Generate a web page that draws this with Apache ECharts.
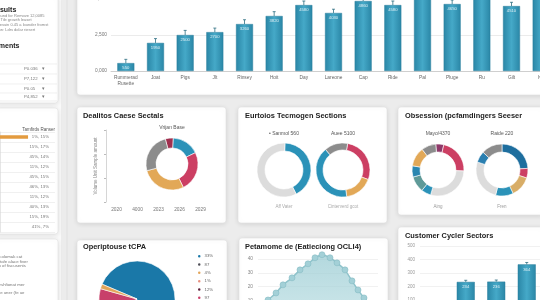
<!DOCTYPE html>
<html><head><meta charset="utf-8">
<script src="https://cdn.jsdelivr.net/npm/echarts@6/dist/echarts.min.js"></script>
<style>html,body{margin:0;padding:0;background:#ececec;}#c{width:540px;height:300px;}</style>
</head><body><div id="c"></div><script>
// ---------- data ----------
const topCats = ['Rummerad\nRusette','Joat','Pigs','Jlt','Rinsey','Hoit','Day','Lareone','Cap','Ride','Pal','Pluge','Ru','Gilt','Ivo'];
const topVals = [550,1950,2500,2700,3260,3820,4580,4030,4860,4580,5600,4650,5800,4510,5900];
const topErr  = [260,300,320,280,300,300,280,260,300,280,300,280,300,260,300];
const topTicks = ['0,000','2,500','5,000','7,500'];

const aYears = ['2020','4000','2023','2026','2029'];
const donutAVals = [5,17,25,28,25];
const donutB1Vals = [42,58];
const donutB2Vals = [28,17,41,14];
const donutC1Vals = [5,22,29,6,10,7,12,9];
const donutC2Vals = [24,6,13,11,26,7,13];

const pieNames = ['33%','87','4%','1%','12%','97','6%'];
const pieVals  = [78,2,2,1.5,2,12,2.5];

const blobX = [0,4,10,18,25,34,42,50,57,64,72,79,87,94,100,106,112,118];
const blobY = [0,6.6,10.2,15.3,21.2,26.3,32.1,36.5,40.9,43.1,40.9,37.2,32.1,24.1,17.5,11.7,6.6,0];

const cycCats = ['Q1','Q2','Q3','Q4'];
const cycVals = [60,234,236,364];
const cycErr  = [10,12,12,14];

const sideRows = ['1%, 15%','15%, 17%','45%, 14%','11%, 12%','45%, 15%','46%, 13%','11%, 12%','40%, 13%','15%, 19%','41%, 7%'];
const sideVals = [51,0,0,0,0,0,0,0,0,0];
const tableVals = ['P0.036','P7,122','P0.05','P4,852'];

// ---------- styles ----------
const TEAL='#2b92b8', CRIM='#cc3f63', ORNG='#e2a857', GRAY='#8c8c8c', LGRAY='#dcdcdc';
const barGrad = new echarts.graphic.LinearGradient(0,0,1,0,[
  {offset:0,color:'#2a86a6'},{offset:0.5,color:'#45a9c8'},{offset:1,color:'#2a86a6'}]);
const TF = 'Liberation Sans, Arial, sans-serif';

function card(x,y,w,h){
  return {type:'rect',z:-10,shape:{x:x,y:y,width:w,height:h,r:3},
    style:{fill:'#fff',stroke:'#e0e0e0',lineWidth:0.6,shadowBlur:5,shadowColor:'rgba(0,0,0,0.10)',shadowOffsetY:1}};
}
function txt(x,y,t,fs,col,opt){
  return Object.assign({type:'text',z:5,x:x,y:y,style:Object.assign({text:t,fontSize:fs,fill:col,fontFamily:TF,textVerticalAlign:'middle'},opt||{})});
}
function title(x,y,t){ return txt(x,y,t,7.4,'#222',{fontWeight:'bold'}); }
function hline(x1,x2,y,col){ return {type:'line',z:-5,shape:{x1:x1,y1:y,x2:x2,y2:y},style:{stroke:col||'#e6e6e6',lineWidth:0.6}}; }

function donut(cx,cy,r,vals,colors,start){
  return {type:'pie',center:[cx,cy],radius:r,startAngle:start,clockwise:true,silent:true,
    label:{show:false},labelLine:{show:false},
    itemStyle:{borderColor:'#fff',borderWidth:0.6},
    data:vals.map((v,i)=>({value:v,name:'d'+start+'_'+i,itemStyle:{color:colors[i]}}))};
}
function errRender(color){
  return function(params, api){
    const i = api.value(0), v = api.value(1), e = api.value(2);
    const a = api.coord([i, v]), b = api.coord([i, v + e]);
    return {type:'group',children:[
      {type:'line',shape:{x1:a[0],y1:a[1],x2:b[0],y2:b[1]},style:{stroke:color,lineWidth:0.8}},
      {type:'line',shape:{x1:b[0]-1.5,y1:b[1],x2:b[0]+1.5,y2:b[1]},style:{stroke:color,lineWidth:0.8}}]};
  };
}

const graphic = [
  // sidebar
  {type:'rect',z:-20,shape:{x:-5,y:-5,width:66,height:310},style:{fill:'#f9f9f9'}},
  {type:'line',z:-15,shape:{x1:67,y1:0,x2:67,y2:300},style:{stroke:'#dedede',lineWidth:0.8}},
  card(-5,-5,63,108), card(-5,108,63,126), card(-5,239,63,70),
  txt(-9,10,'Results',7,'#222',{fontWeight:'bold'}),
  txt(-6,15.5,'cpound for Remove 12,0085',4,'#888'),
  txt(-4,20,'4. Tile growth leaset',4,'#888'),
  txt(-6,25,'Lt-Iesuin 0.45 a lounder fromst',4,'#888'),
  txt(-5,30,'Zmn: Ldrs dolar riesert',4,'#888'),
  txt(-14,46,'Segments',7,'#222',{fontWeight:'bold'}),
  hline(0,57,64), hline(0,57,74), hline(0,57,84), hline(0,57,93), hline(0,57,101),
  txt(24,69,tableVals[0],4.3,'#777'), txt(24,79,tableVals[1],4.3,'#777'),
  txt(24,89,tableVals[2],4.3,'#777'), txt(24,97,tableVals[3],4.3,'#777'),
  txt(42,69,'▾',4.5,'#777'), txt(42,79,'▾',4.5,'#777'), txt(42,89,'▾',4.5,'#777'), txt(42,97,'▾',4.5,'#777'),
  txt(55,130,'Tamfirds Ranser',4.5,'#555',{textAlign:'right'}),
  txt(-4,257,'ti colomak cat',4.3,'#777'),
  txt(-6,261.5,'aa tafe alace fiver',4.3,'#777'),
  txt(-3,266,'ro of fiscusents',4.3,'#777'),
  txt(-4,285,'turshfionat mer',4.3,'#777'),
  txt(-2,293,'se uner (fe ue',4.3,'#777'),
  // cards
  card(77,-10,470,105),
  card(77,107,149,116), card(238,107,149,116), card(398,107,147,108),
  card(77,240,150,70), card(239,238,149,72), card(398,227,147,83),
  title(83,116,'Dealitos Caese Sectals'),
  title(245,116,'Eurtoios Tecmogen Sections'),
  title(405,116,'Obsession (pcfamdingers Seeser'),
  title(83,247,'Operiptouse tCPA'),
  title(245,247,'Petamome de (Eatieciong OCLI4)'),
  title(405,236,'Customer Cycler Sectors'),
  txt(172,128,'Vrijan Base',5,'#555',{textAlign:'center'}),
  txt(284,134,'• Sanmol 560',5,'#555',{textAlign:'center'}),
  txt(343,134,'Auee 5100',5,'#555',{textAlign:'center'}),
  txt(438,134,'Mayo/4370',5,'#555',{textAlign:'center'}),
  txt(502,134,'Raide 220',5,'#555',{textAlign:'center'}),
  txt(284,207,'Aff Vater',4.5,'#aaa',{textAlign:'center'}),
  txt(343,207,'Cinterverd gcot',4.5,'#aaa',{textAlign:'center'}),
  txt(438,207,'Aing',4.5,'#999',{textAlign:'center'}),
  txt(502,207,'Fren',4.5,'#999',{textAlign:'center'})
];

const G = {outerBoundsMode:'none', containLabel:false};
const option = {
  animation:false,
  backgroundColor:'#ececec',
  textStyle:{fontFamily:TF},
  graphic: graphic,
  legend:{data:pieNames, orient:'vertical', left:196, top:253, height:80, padding:0,
    itemWidth:4.5, itemHeight:4.5, itemGap:1.8,
    icon:'circle', textStyle:{fontSize:4.3,lineHeight:5,color:'#666',padding:[0,0,0,-2]}, selectedMode:false},
  grid:[
    Object.assign({left:111, top:-37, width:445, height:108},G),   // 0 top bars
    Object.assign({left:106, top:130, width:105, height:72},G),    // 1 empty axes card A
    Object.assign({left:0, top:132, width:55, height:100},G),      // 2 sidebar bars
    Object.assign({left:258, top:259, width:120, height:55},G),    // 3 blob
    Object.assign({left:420, top:246, width:122, height:67.5},G)   // 4 cycler bars
  ],
  xAxis:[
    {gridIndex:0,type:'category',data:topCats,axisTick:{show:false},axisLine:{lineStyle:{color:'#cfcfcf'}},
      axisLabel:{fontSize:4.8,color:'#666',margin:4,lineHeight:6,interval:0}},
    {gridIndex:1,type:'category',data:aYears,axisTick:{show:false},axisLine:{show:false},
      axisLabel:{fontSize:4.8,color:'#777',margin:5}},
    {gridIndex:2,type:'value',min:0,max:100,show:false},
    {gridIndex:3,type:'value',min:0,max:120,show:false},
    {gridIndex:4,type:'category',data:cycCats,axisTick:{show:false},axisLine:{show:false},axisLabel:{show:false}}
  ],
  yAxis:[
    {gridIndex:0,type:'value',min:0,max:7500,interval:2500,
      axisLabel:{fontSize:4.8,color:'#777',margin:4,formatter:(v,i)=>topTicks[i]},
      splitLine:{lineStyle:{color:'#e3e3e3',width:0.7}}},
    {gridIndex:1,type:'value',min:0,max:30,interval:10,name:'Volume Unit Sample amount',nameLocation:'middle',nameGap:8,
      nameTextStyle:{fontSize:4.5,color:'#888'},
      axisLine:{show:true,lineStyle:{color:'#bbb',width:0.6}},axisTick:{show:true,length:2,lineStyle:{color:'#bbb'}},
      axisLabel:{show:false},splitLine:{show:false}},
    {gridIndex:2,type:'category',data:sideRows,inverse:true,position:'right',
      axisLine:{show:true,lineStyle:{color:'#d5d5d5',width:0.6}},axisTick:{show:true,inside:true,length:2,lineStyle:{color:'#bbb'}},
      axisLabel:{inside:true,fontSize:4.3,color:'#777',margin:6},
      splitLine:{show:true,lineStyle:{color:'#e6e6e6',width:0.6}}},
    {gridIndex:3,type:'value',min:0,max:40,interval:10,
      axisLine:{show:false},axisTick:{show:false},
      axisLabel:{fontSize:4.8,color:'#888',margin:5},
      splitLine:{lineStyle:{color:'#e8e8e8',width:0.6}}},
    {gridIndex:4,type:'value',min:0,max:500,interval:100,
      axisLine:{show:false},axisTick:{show:false},
      axisLabel:{fontSize:4.5,color:'#999',margin:5},
      splitLine:{lineStyle:{color:'#e8e8e8',width:0.6}}}
  ],
  series:[
    {type:'bar',xAxisIndex:0,yAxisIndex:0,data:topVals,barWidth:17,silent:true,
      itemStyle:{color:barGrad,borderColor:'#2a7f9c',borderWidth:0.5},
      label:{show:true,position:'insideTop',fontSize:4.2,color:'rgba(255,255,255,0.85)',distance:3}},
    {type:'custom',xAxisIndex:0,yAxisIndex:0,silent:true,renderItem:errRender('#2d6e82'),
      data:topVals.map((v,i)=>[i,v,topErr[i]]),z:5},
    {type:'bar',xAxisIndex:2,yAxisIndex:2,data:sideVals,barWidth:3.5,silent:true,
      itemStyle:{color:'#e39b3f'}},
    {type:'line',xAxisIndex:3,yAxisIndex:3,data:blobX.map((x,i)=>[x,blobY[i]]),smooth:0.15,silent:true,clip:false,
      symbol:'circle',symbolSize:6,itemStyle:{color:'#a3d0d7',borderColor:'#86bcc5',borderWidth:0.6},
      lineStyle:{color:'#8fc3cb',width:1.5},
      areaStyle:{color:new echarts.graphic.LinearGradient(0,0,0,1,[{offset:0,color:'#93c8d0'},{offset:1,color:'#b5dbe0'}])}},
    {type:'bar',xAxisIndex:4,yAxisIndex:4,data:cycVals,barWidth:18,silent:true,
      itemStyle:{color:barGrad,borderColor:'#2a7f9c',borderWidth:0.5},
      label:{show:true,position:'insideTop',fontSize:4.2,color:'rgba(255,255,255,0.85)',distance:3}},
    {type:'custom',xAxisIndex:4,yAxisIndex:4,silent:true,renderItem:errRender('#2d6e82'),
      data:cycVals.map((v,i)=>[i,v,cycErr[i]]),z:5},
    donut(172,164,[16,26],donutAVals,['#a0304f',TEAL,CRIM,ORNG,GRAY],105),
    donut(284,170,[19,27],donutB1Vals,[TEAL,LGRAY],88),
    donut(343,170,[20,27],donutB2Vals,[CRIM,ORNG,TEAL,GRAY],80),
    donut(438,170,[18,26],donutC1Vals,['#8e3a6a',CRIM,LGRAY,TEAL,'#5f9a98','#2a86b0',ORNG,GRAY],95),
    donut(502,170,[18,26],donutC2Vals,['#1e6e9e',CRIM,'#d8ad67',TEAL,LGRAY,'#2a7fb0',GRAY],90),
    {type:'pie',center:[137,299],radius:38,startAngle:157,clockwise:true,silent:true,
      label:{show:false},labelLine:{show:false},itemStyle:{borderColor:'#fff',borderWidth:0.6},
      data:[
        {name:pieNames[0],value:pieVals[0],itemStyle:{color:'#1a78a8'}},
        {name:pieNames[1],value:pieVals[1],itemStyle:{color:'#4d4d55'}},
        {name:pieNames[3],value:pieVals[3],itemStyle:{color:'#e8907f'}},
        {name:pieNames[4],value:pieVals[4],itemStyle:{color:'#5b1f3a'}},
        {name:pieNames[6],value:pieVals[6],itemStyle:{color:'#333338'}},
        {name:pieNames[5],value:pieVals[5],itemStyle:{color:'#c8406a'}},
        {name:pieNames[2],value:pieVals[2],itemStyle:{color:'#e3a55a'}}
      ]}
  ]
};
echarts.init(document.getElementById('c')).setOption(option);
</script></body></html>
